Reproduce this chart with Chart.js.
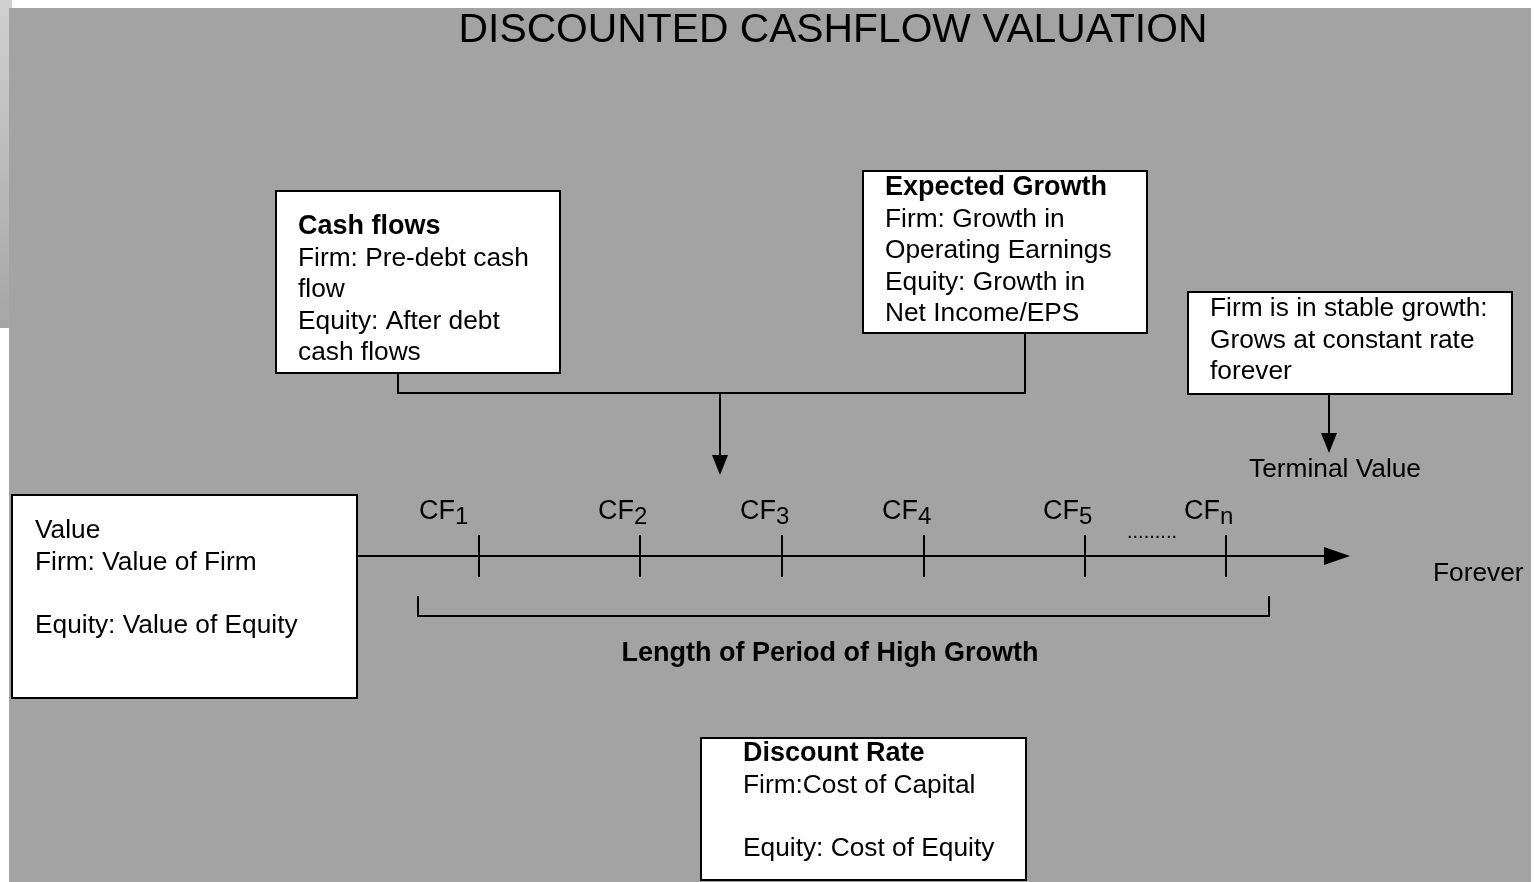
<!DOCTYPE html>
<html>
<head>
<meta charset="utf-8">
<script src="https://cdn.jsdelivr.net/npm/chart.js@4.4.1/dist/chart.umd.min.js"></script>
<style>
  html, body { margin: 0; padding: 0; background: #fff; }
  canvas { display: block; }
</style>
</head>
<body>
<canvas id="dcf" width="1535" height="882"></canvas>
<script>
// Timeline periods and where they sit on the line
const periods = ['1', '2', '3', '4', '5', 'n'];
const periodX = [479, 640, 782, 924, 1085, 1226];

// Box texts
const cashFlowLines = ['Cash flows', 'Firm: Pre-debt cash', 'flow', 'Equity: After debt', 'cash flows'];
const growthLines = ['Expected Growth', 'Firm: Growth in', 'Operating Earnings', 'Equity: Growth in', 'Net Income/EPS'];
const stableLines = ['Firm is in stable growth:', 'Grows at constant rate', 'forever'];
const valueLines = ['Value', 'Firm: Value of Firm', '', 'Equity: Value of Equity'];
const discountLines = ['Discount Rate', 'Firm:Cost of Capital', '', 'Equity: Cost of Equity'];

const FONT = '"Liberation Sans", Arial, Helvetica, sans-serif';
const LINE_Y = 556;
const LINE_H = 31.6;

document.addEventListener('DOMContentLoaded', () => {
    let X, Y;

    function box(ctx, x1, y1, x2, y2) {
        ctx.fillStyle = '#fff';
        ctx.fillRect(X(x1), Y(y1), X(x2) - X(x1), Y(y2) - Y(y1));
        ctx.strokeStyle = '#000';
        ctx.lineWidth = 2;
        ctx.strokeRect(X(x1), Y(y1), X(x2) - X(x1), Y(y2) - Y(y1));
    }

    function lines(ctx, list, x, y, boldFirst) {
        ctx.fillStyle = '#000';
        ctx.textAlign = 'left';
        ctx.textBaseline = 'alphabetic';
        list.forEach((t, i) => {
            ctx.font = (boldFirst && i === 0 ? 'bold 27px ' : '26.3px ') + FONT;
            ctx.fillText(t, X(x), Y(y + i * LINE_H));
        });
    }

    function path(ctx, pts) {
        ctx.strokeStyle = '#000';
        ctx.lineWidth = 2;
        ctx.beginPath();
        pts.forEach((p, i) => i ? ctx.lineTo(X(p[0]), Y(p[1])) : ctx.moveTo(X(p[0]), Y(p[1])));
        ctx.stroke();
    }

    function arrowDown(ctx, x, y1, y2) {
        path(ctx, [[x, y1], [x, y2 - 16]]);
        ctx.fillStyle = '#000';
        ctx.beginPath();
        ctx.moveTo(X(x - 8), Y(y2 - 20));
        ctx.lineTo(X(x + 8), Y(y2 - 20));
        ctx.lineTo(X(x), Y(y2));
        ctx.closePath();
        ctx.fill();
    }

    const diagram = {
        id: 'diagram',
        beforeDraw(chart) {
            const ctx = chart.ctx;
            X = v => chart.scales.x.getPixelForValue(v);
            Y = v => chart.scales.y.getPixelForValue(v);
            ctx.save();
            ctx.fillStyle = '#fff';
            ctx.fillRect(0, 0, chart.width, chart.height);
            const g = ctx.createLinearGradient(0, 0, 0, Y(328));
            g.addColorStop(0, '#d0d0d0');
            g.addColorStop(1, '#a6a6a6');
            ctx.fillStyle = g;
            ctx.fillRect(0, 0, X(12), Y(328));
            ctx.fillStyle = '#a3a3a3';
            ctx.fillRect(X(9), Y(8), X(1531) - X(9), Y(882) - Y(8));

            // title
            ctx.fillStyle = '#000';
            ctx.font = '40.8px ' + FONT;
            ctx.textAlign = 'center';
            ctx.fillText('DISCOUNTED CASHFLOW VALUATION', X(833), Y(42));

            // connectors from the top boxes
            path(ctx, [[398, 373], [398, 393], [1025, 393], [1025, 333]]);
            arrowDown(ctx, 720, 393, 475);
            arrowDown(ctx, 1329, 394, 453);

            // boxes
            box(ctx, 276, 191, 560, 373);
            lines(ctx, cashFlowLines, 298, 234, true);
            box(ctx, 863, 171, 1147, 333);
            lines(ctx, growthLines, 885, 195, true);
            box(ctx, 1188, 292, 1512, 394);
            lines(ctx, stableLines, 1210, 316, false);
            box(ctx, 12, 495, 357, 698);
            lines(ctx, valueLines, 35, 538, false);
            box(ctx, 701, 738, 1026, 880);
            lines(ctx, discountLines, 743, 761, true);

            ctx.font = '26.3px ' + FONT;
            ctx.textAlign = 'center';
            ctx.fillText('Terminal Value', X(1335), Y(477));
            ctx.textAlign = 'left';
            ctx.fillText('Forever', X(1433), Y(581));

            // bracket for high growth period
            path(ctx, [[418, 596], [418, 616], [1269, 616], [1269, 596]]);
            ctx.font = 'bold 27px ' + FONT;
            ctx.textAlign = 'center';
            ctx.fillText('Length of Period of High Growth', X(830), Y(661));

            // arrowhead of the timeline
            ctx.beginPath();
            ctx.moveTo(X(1324), Y(LINE_Y - 9));
            ctx.lineTo(X(1350), Y(LINE_Y));
            ctx.lineTo(X(1324), Y(LINE_Y + 9));
            ctx.closePath();
            ctx.fill();
            ctx.restore();
        },
        afterDatasetsDraw(chart) {
            const ctx = chart.ctx;
            ctx.save();
            ctx.fillStyle = '#000';
            ctx.textAlign = 'left';
            periods.forEach((p, i) => {
                const lx = X(periodX[i] - (i === 0 ? 60 : 42));
                ctx.font = '27px ' + FONT;
                ctx.fillText('CF', lx, Y(519));
                const w = ctx.measureText('CF').width;
                ctx.font = '24px ' + FONT;
                ctx.fillText(p, lx + w, Y(524));
            });
            ctx.font = '20px ' + FONT;
            ctx.fillText('.........', X(1127), Y(538));
            ctx.restore();
        }
    };

    new Chart(document.getElementById('dcf'), {
        type: 'scatter',
        data: {
            datasets: [
                {
                    label: 'Timeline',
                    data: [{ x: 357, y: LINE_Y }, { x: 1330, y: LINE_Y }],
                    showLine: true,
                    borderColor: '#000',
                    borderWidth: 2,
                    pointRadius: 0
                },
                {
                    label: 'Cash flows',
                    data: periodX.map(x => ({ x, y: LINE_Y })),
                    pointStyle: 'line',
                    rotation: 90,
                    radius: 21,
                    borderColor: '#000',
                    borderWidth: 2,
                    showLine: false
                }
            ]
        },
        options: {
            responsive: false,
            animation: false,
            events: [],
            layout: { padding: 0, autoPadding: false },
            plugins: { legend: { display: false }, tooltip: { enabled: false } },
            scales: {
                x: { type: 'linear', min: 0, max: 1535, display: false },
                y: { type: 'linear', min: 0, max: 882, reverse: true, display: false }
            }
        },
        plugins: [diagram]
    });
});
</script>
</body>
</html>
